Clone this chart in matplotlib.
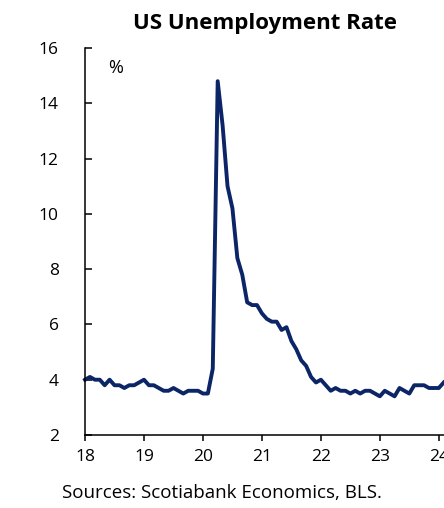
import matplotlib
matplotlib.use("Agg")
import matplotlib.pyplot as plt
import numpy as np

plt.rcParams["font.family"] = ["Open Sans", "DejaVu Sans"]

# monthly US unemployment rate, Jan 2018 onwards (%)
rate_2018 = [4.0, 4.1, 4.0, 4.0, 3.8, 4.0, 3.8, 3.8, 3.7, 3.8, 3.8, 3.9]
rate_2019 = [4.0, 3.8, 3.8, 3.7, 3.6, 3.6, 3.7, 3.6, 3.5, 3.6, 3.6, 3.6]
rate_2020 = [3.5, 3.5, 4.4, 14.8, 13.2, 11.0, 10.2, 8.4, 7.8, 6.8, 6.7, 6.7]
rate_2021 = [6.4, 6.2, 6.1, 6.1, 5.8, 5.9, 5.4, 5.1, 4.7, 4.5, 4.1, 3.9]
rate_2022 = [4.0, 3.8, 3.6, 3.7, 3.6, 3.6, 3.5, 3.6, 3.5, 3.6, 3.6, 3.5]
rate_2023 = [3.4, 3.6, 3.5, 3.4, 3.7, 3.6, 3.5, 3.8, 3.8, 3.8, 3.7, 3.7]
rate_2024 = [3.7, 3.9]

rate = rate_2018 + rate_2019 + rate_2020 + rate_2021 + rate_2022 + rate_2023 + rate_2024
start_year = 18
x = start_year + np.arange(len(rate)) / 12.0

xticks = [18, 19, 20, 21, 22, 23, 24]
yticks = [2, 4, 6, 8, 10, 12, 14, 16]

fig = plt.figure(figsize=(4.44, 5.08), dpi=100)
ax = fig.add_axes([0.1915, 0.1437, 0.83, 0.7618])

ax.plot(x, rate, color="#0b2566", lw=2.8, solid_joinstyle="round", clip_on=False)

ax.set_xlim(18, 24.25)
ax.set_ylim(2, 16)
ax.set_xticks(xticks)
ax.set_xticklabels([str(t) for t in xticks])
ax.set_yticks(yticks)

for side in ["top", "right"]:
    ax.spines[side].set_visible(False)
for side in ["left", "bottom"]:
    ax.spines[side].set_linewidth(1.1)

ax.tick_params(axis="y", direction="in", length=5, width=1.1, labelsize=12.5, pad=19)
ax.tick_params(axis="x", direction="out", length=4, width=1.1, labelsize=12.5, pad=6)

ax.text(0.063, 0.972, "%", transform=ax.transAxes, fontsize=13, va="top", ha="left")

fig.text(265 / 444, 1 - 23 / 508, "US Unemployment Rate", fontsize=16,
         fontweight="bold", ha="center", va="center")
fig.text(62 / 444, 1 - 493 / 508, "Sources: Scotiabank Economics, BLS.",
         fontsize=13.5, ha="left", va="center")

fig.savefig("out.png", dpi=100)
